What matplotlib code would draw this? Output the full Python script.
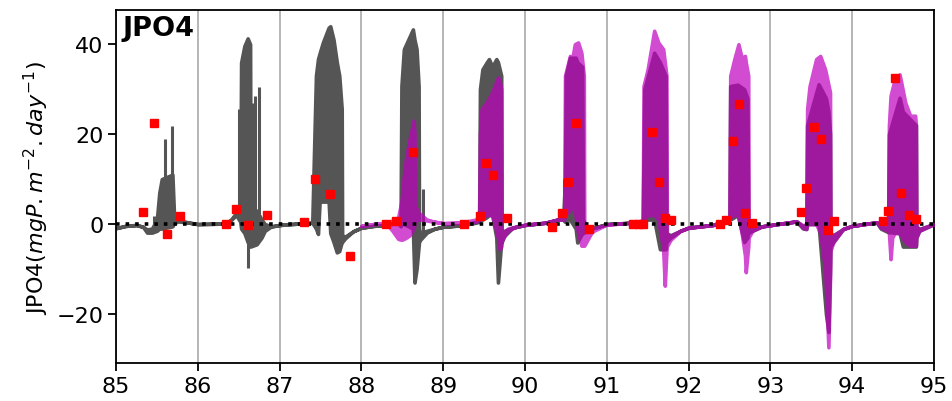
import numpy as np
import matplotlib
matplotlib.use('Agg')
import matplotlib.pyplot as plt

# model 1 (grey): envelope of the daily oscillation, time in years
grey_t = [85.00, 85.12, 85.25, 85.33, 85.38, 85.44, 85.50, 85.53, 85.56, 85.69, 85.71, 85.76, 85.90,
          86.00, 86.30, 86.40, 86.47, 86.52, 86.53, 86.57, 86.61, 86.64, 86.645, 86.72, 86.78, 86.82,
          86.90, 87.05, 87.40, 87.445, 87.47, 87.49, 87.53, 87.60, 87.62, 87.66, 87.70, 87.73, 87.76,
          87.765, 87.80, 87.90, 88.00, 88.15, 88.30, 88.45, 88.48, 88.49, 88.52, 88.63, 88.65, 88.675,
          88.70, 88.705, 88.72, 88.80, 88.90, 89.00, 89.20, 89.40, 89.44, 89.45, 89.48, 89.53, 89.56,
          89.60, 89.65, 89.67, 89.71, 89.715, 89.75, 89.85, 90.00, 90.25, 90.40, 90.47, 90.49, 90.50,
          90.55, 90.62, 90.64, 90.70, 90.71, 90.76, 90.85, 91.00, 91.30, 91.44, 91.46, 91.58, 91.65,
          91.72, 91.73, 91.78, 91.90, 92.00, 92.30, 92.45, 92.50, 92.51, 92.60, 92.68, 92.72, 92.73,
          92.78, 92.90, 93.20, 93.32, 93.40, 93.44, 93.45, 93.59, 93.68, 93.71, 93.73, 93.735, 93.77,
          93.89, 94.00, 94.30, 94.35, 94.44, 94.45, 94.58, 94.62, 94.78, 94.785, 94.82, 95.00]
grey_hi = [-0.9, -0.4, -0.2, -0.6, -1.2, -1.0, 1.0, 7.0, 10.0, 11.0, 2.0, 0.9, 0.3,
           0.0, 0.1, 0.8, 2.5, 4.0, 35.9, 39.6, 41.3, 40.0, 3.0, 3.0, 1.0, 0.0,
           -0.5, -0.1, 0.3, 33.0, 36.7, 38.0, 40.4, 43.7, 44.0, 41.0, 36.0, 33.0, 25.6,
           -2.5, -2.8, -1.6, -0.8, -0.4, -0.2, 0.5, 1.0, 30.7, 38.9, 43.3, 41.0, 38.9,
           30.7, -1.0, -2.0, -1.5, -1.0, -0.6, -0.3, 0.5, 1.0, 30.0, 34.4, 35.9, 36.7,
           35.0, 36.7, 36.0, 33.0, -1.5, -1.5, -0.8, -0.2, 0.3, 1.0, 2.0, 10.0, 33.0,
           37.0, 37.0, 36.0, 35.0, 1.0, -1.0, -0.8, 0.0, 0.3, 0.5, 30.0, 38.1, 36.0,
           33.0, -2.0, -2.5, -1.5, -0.8, -0.2, 0.8, 1.5, 30.7, 31.0, 30.0, 28.0, 0.0,
           -1.0, -0.5, 0.3, 0.6, -0.5, 0.0, 22.0, 31.1, 28.0, 25.0, 20.0, -2.0, -2.5,
           -1.1, -0.4, 0.4, -0.5, -1.0, 20.0, 28.1, 25.0, 22.0, -0.5, -1.1, 0.0]
grey_lo = [-0.9, -0.4, -0.2, -0.6, -1.9, -1.9, -1.5, -1.0, -1.0, -0.5, 0.2, 0.6, 0.3,
           0.0, 0.1, 0.8, 2.0, 0.5, -1.0, -2.0, -4.0, -5.0, -5.0, -4.5, -3.0, -1.5,
           -0.5, -0.1, 0.3, -1.0, -2.2, 5.0, 5.0, 5.0, -2.0, -4.0, -6.3, -6.0, -4.0,
           -4.0, -3.2, -1.6, -0.8, -0.4, -0.2, 0.3, -0.5, 0.0, 0.0, -1.0, -13.0, -10.0,
           -5.0, -4.0, -3.5, -1.9, -1.0, -0.6, -0.3, 0.3, 0.5, 1.0, 1.0, 1.5, 2.0,
           2.0, -3.0, -13.0, -4.0, -4.0, -2.6, -0.8, -0.2, 0.3, 1.0, 1.0, 0.5, 1.0,
           1.0, -1.0, -4.1, -2.0, -2.0, -1.5, -0.8, 0.0, 0.3, 0.5, 1.0, 1.0, -5.6,
           -5.6, -4.0, -3.0, -1.5, -0.8, -0.2, 0.8, 1.0, 1.0, 2.0, -4.0, -3.0, -2.0,
           -1.5, -0.5, 0.3, 0.6, -1.0, -1.1, 0.0, 0.0, -20.0, -24.0, -10.0, -5.0, -4.0,
           -1.1, -0.4, 0.4, -1.0, -1.8, -1.8, -2.0, -5.0, -5.0, -3.0, -1.5, 0.0]

# thin isolated spikes of model 1
spike_t = [85.46, 85.60, 85.68, 86.50, 86.62, 86.665, 86.70, 86.75, 88.75, 90.48]
spike_hi = [1.9, 18.9, 21.9, 25.6, 0.0, 27.0, 28.5, 30.4, 7.8, 10.0]
spike_lo = [-1.2, 9.0, 10.0, 2.0, -9.8, 0.0, 0.0, 0.0, -1.5, 0.5]

# model 2 (magenta)
mag_t = [88.00, 88.15, 88.30, 88.38, 88.45, 88.49, 88.52, 88.55, 88.59, 88.64, 88.65, 88.66, 88.70,
         88.80, 88.90, 89.00, 89.20, 89.40, 89.44, 89.45, 89.47, 89.53, 89.60, 89.67, 89.69, 89.71,
         89.715, 89.73, 89.79, 89.90, 90.02, 90.25, 90.40, 90.48, 90.49, 90.55, 90.58, 90.61, 90.65,
         90.69, 90.72, 90.725, 90.81, 90.83, 91.00, 91.30, 91.44, 91.45, 91.50, 91.58, 91.63, 91.69,
         91.71, 91.73, 91.735, 91.78, 91.90, 92.00, 92.30, 92.45, 92.50, 92.51, 92.56, 92.61, 92.65,
         92.69, 92.70, 92.73, 92.735, 92.78, 92.90, 93.20, 93.32, 93.40, 93.44, 93.45, 93.48, 93.56,
         93.61, 93.67, 93.71, 93.73, 93.735, 93.77, 93.89, 94.00, 94.30, 94.35, 94.44, 94.45, 94.47,
         94.49, 94.52, 94.58, 94.65, 94.71, 94.77, 94.78, 94.785, 94.82, 95.00]
mag_hi = [-0.4, 0.0, 0.3, 0.8, 1.5, 5.0, 10.7, 15.2, 18.9, 23.0, 20.0, 4.0, 2.5,
          1.0, 0.5, 0.2, 0.3, 1.0, 2.0, 20.0, 25.6, 27.0, 29.3, 32.6, 32.0, 30.0,
          -1.5, -2.0, -1.0, -0.5, -0.1, 0.3, 1.0, 2.5, 33.0, 37.4, 37.0, 40.0, 40.4,
          38.1, 33.0, -1.0, -1.0, -1.0, -0.1, 0.3, 0.8, 30.7, 34.4, 43.0, 40.4, 38.9,
          36.0, 33.0, -2.5, -2.6, -1.5, -0.8, -0.2, 0.8, 1.5, 33.0, 36.7, 40.0, 37.0,
          37.4, 36.0, 33.0, -1.0, -1.0, -0.5, 0.3, 0.6, -0.3, 0.0, 25.6, 30.7, 36.7,
          37.4, 34.4, 31.0, 29.3, -2.5, -2.5, -1.1, -0.4, 0.4, -0.3, 0.0, 21.9, 28.5,
          30.0, 32.2, 33.3, 27.0, 24.1, 24.1, 22.0, -0.5, -1.1, 0.0]
mag_lo = [-0.4, 0.0, 0.3, -1.5, -3.3, -3.5, -3.3, -3.0, -2.5, -1.0, 0.0, 1.0, 1.0,
          0.8, 0.5, 0.2, 0.3, 0.5, 1.0, 1.0, 1.5, 2.0, 2.0, -3.0, -5.6, -5.0,
          -4.0, -3.2, -1.5, -0.5, -0.1, 0.3, 1.0, 1.0, 2.0, 3.0, 4.0, 3.0, -2.0,
          -4.8, -4.8, -4.8, -2.0, -1.6, -0.1, 0.3, 0.5, 1.0, 2.0, 2.0, 1.0, -5.6,
          -13.7, -6.0, -5.0, -3.5, -1.5, -0.8, -0.2, 0.8, 1.0, 1.5, 2.0, 2.0, -2.0,
          -7.0, -10.7, -5.0, -3.0, -1.5, -0.5, 0.3, 0.6, -0.8, -1.1, 0.0, 0.0, 0.0,
          -2.0, -10.0, -27.4, -12.0, -6.0, -4.0, -1.1, -0.4, 0.4, -0.8, -1.5, -2.0, -7.8,
          -3.0, -2.0, -2.0, -4.0, -4.8, -4.8, -4.8, -3.0, -1.5, 0.0]

# observations
obs_t = [85.33, 85.47, 85.63, 85.78, 86.34, 86.47, 86.62, 86.85, 87.30, 87.43,
         87.62, 87.86, 88.30, 88.42, 88.63, 89.25, 89.45, 89.53, 89.61, 89.78,
         90.33, 90.45, 90.53, 90.62, 90.78, 91.32, 91.39, 91.44, 91.55, 91.64,
         91.71, 91.79, 92.38, 92.46, 92.54, 92.62, 92.69, 92.77, 93.37, 93.44,
         93.54, 93.62, 93.70, 93.78, 94.38, 94.44, 94.53, 94.60, 94.70, 94.78]
obs_v = [2.6, 22.4, -2.2, 1.7, 0.0, 3.3, -0.1, 2.0, 0.4, 10.0,
         6.7, -7.2, 0.1, 0.7, 16.1, 0.0, 1.7, 13.6, 10.9, 1.3,
         -0.6, 2.4, 9.3, 22.4, -1.0, 0.0, 0.0, 0.0, 20.4, 9.3,
         1.4, 1.0, 0.1, 1.0, 18.5, 26.8, 2.4, 0.3, 2.6, 8.1,
         21.6, 18.9, -1.3, 0.7, 0.7, 3.0, 32.4, 6.9, 2.1, 1.1]


def fade(img, dpi):
    # group transparency (alpha ends up applied twice by agg, so sqrt(0.7))
    img[..., 3] *= 0.84
    return img, 0, 0


fig = plt.figure(figsize=(9.52, 4.02), dpi=100)
ax = fig.add_axes([0.1218, 0.0945, 0.8592, 0.878])

ax.fill_between(grey_t, grey_lo, grey_hi, facecolor='#555555', edgecolor='#555555', lw=2.6, zorder=2)
ax.vlines(spike_t, spike_lo, spike_hi, color='#555555', lw=2.2, zorder=2)
pm = ax.fill_between(mag_t, mag_lo, mag_hi, facecolor='#bf00bf', edgecolor='#bf00bf', lw=2.6, zorder=3)
pm.set_agg_filter(fade)

ax.plot([85, 95], [0, 0], ':', color='k', lw=2.6, zorder=4)
ax.plot(obs_t, obs_v, 's', color='red', markersize=6.2, zorder=5)

ax.set_xlim(85, 95)
ax.set_ylim(-30.9, 47.6)
ax.set_xticks(range(85, 96))
ax.set_yticks([-20, 0, 20, 40])
ax.grid(axis='x', color='#b0b0b0', lw=1.3, zorder=0)
ax.set_axisbelow(True)
ax.tick_params(labelsize=16, length=5.5, width=1.3)
for s in ax.spines.values():
    s.set_linewidth(1.3)

ax.set_ylabel(r'JPO4($mgP.m^{-2}.day^{-1}$)', fontsize=16)
ax.text(0.008, 0.985, 'JPO4', transform=ax.transAxes, fontsize=19.5, fontweight='bold',
        va='top', ha='left')

plt.savefig('out.png', dpi=100)
plt.close()
